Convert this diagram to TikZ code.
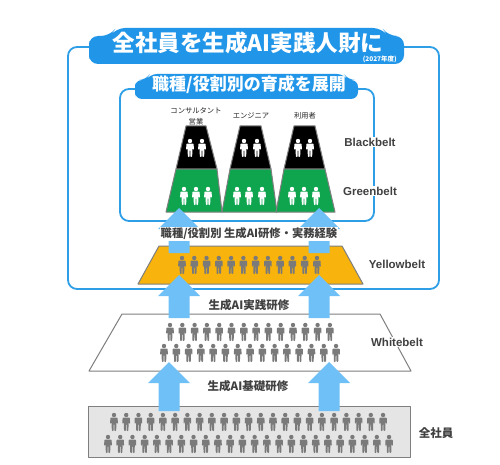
\documentclass[tikz,border=0pt]{standalone}
\usepackage{fontspec}
\setmainfont{Noto Sans CJK JP}
\newfontfamily\beltfont{Liberation Sans}
\usepackage{tikz}
\usetikzlibrary{positioning, calc}

\definecolor{frameblue}{HTML}{2E9FE6}
\definecolor{pillblue}{HTML}{2196E8}
\definecolor{arrowblue}{HTML}{70C0F8}
\definecolor{beltgreen}{HTML}{0FA54F}
\definecolor{beltyellow}{HTML}{F8B30C}
\definecolor{edgegray}{HTML}{7F7F7F}
\definecolor{persongray}{HTML}{7A7A7A}

\tikzset{
    frame/.style={draw=frameblue, line width=1.8pt, rounded corners=9pt},
    pill/.style={fill=pillblue, rounded corners=9pt},
    belt/.style={draw=edgegray, line width=1pt, line join=round},
    beltlabel/.style={font=\beltfont\bfseries\fontsize{11.5}{13}\selectfont, text=black!75, fill=white, inner sep=1pt},
    stagelabel/.style={font=\bfseries\fontsize{11.5}{13}\selectfont, text=black!75, fill=white, inner sep=1pt},
    rolelabel/.style={font=\fontsize{7.3}{9}\selectfont, text=black!85, inner sep=0pt},
    pics/person/.style={code={
        \fill[#1] (0,-7) circle (2.2);
        \fill[#1, rounded corners=0.8pt] (-3.7,-4.4) -- (3.7,-4.4) -- (3.8,1.6) -- (2.8,1.6) -- (2.4,-2)
            -- (2.2,9) -- (0.4,9) -- (0.3,2) -- (-0.3,2) -- (-0.4,9) -- (-2.2,9) -- (-2.4,-2)
            -- (-2.8,1.6) -- (-3.8,1.6) -- cycle;
    }},
    pics/blockarrow/.style={code={
        \fill[arrowblue] (0,0) -- (21,21) -- (10.5,21) -- (10.5,#1) -- (-10.5,#1) -- (-10.5,21) -- (-21,21) -- cycle;
    }}
}

\begin{document}
\begin{tikzpicture}[x=1pt, y=-1pt]
    \useasboundingbox[fill=white] (0,0) rectangle (500,465);

    % Outer and inner frames
    \draw[frame] (68,47) rectangle (439,289);
    \draw[frame] (120,89) rectangle (374,221);

    % Headings
    \fill[pill] (89,50) -- (89,36) -- (110,36) -- (116,28) -- (382,28) -- (388,36) -- (404,36) -- (404,64) -- (89,64) -- cycle;
    \node[font=\bfseries\fontsize{22.5}{24}\selectfont, text=white, inner sep=0pt] (title) at (248,43) {全社員を生成AI実践人財に};
    \node[font=\bfseries\fontsize{6.5}{7}\selectfont, text=white, inner sep=0pt, anchor=east] (year) at (397,59) {(2027年度)};
    \fill[pill, rounded corners=7pt] (135,90) -- (135,80) -- (146,80) -- (150,74) -- (344,74) -- (348,80) -- (358,80) -- (358,99) -- (135,99) -- cycle;
    \node[font=\bfseries\fontsize{17}{19}\selectfont, text=white, inner sep=0pt] (subtitle) at (249,85) {職種/役割別の育成を展開};

    % Black and green belts
    \foreach \xa/\xb/\xc/\xd/\xe/\xf in {186/206/176/217/166/222, 240/261/230/271/222/277, 294/315/284/325/276/335} {
        \draw[belt, fill=beltgreen] (\xc,169) -- (\xd,169) -- (\xf,212) -- (\xe,212) -- cycle;
        \draw[belt, fill=black] (\xa,126) -- (\xb,126) -- (\xd,169) -- (\xc,169) -- cycle;
    }
    \foreach \x in {190,202,244,257,298,310}
        \pic at (\x,148) {person=white};
    \foreach \x in {184,196,208,237,249,262,292,304,316}
        \pic at (\x,196) {person=white};

    % Roles
    \node[rolelabel] (consult) at (196,111) {コンサルタント};
    \node[rolelabel] (sales) at (196,122) {営業};
    \node[rolelabel] (engineer) at (251,116) {エンジニア};
    \node[rolelabel] (user) at (305,116) {利用者};

    % Yellow belt
    \draw[belt, fill=beltyellow] (159,246) -- (342,246) -- (363,284) -- (138,284) -- cycle;
    \foreach \i in {0,...,11}
        \pic at ({182+12.27*\i},265) {person=persongray};

    % White belt
    \draw[belt, fill=white] (122,314) -- (380,314) -- (411,371) -- (89,371) -- cycle;
    \foreach \i in {0,...,13}
        \pic at ({170+12.3*\i},332) {person=persongray};
    \foreach \i in {0,...,14}
        \pic at ({164+12.29*\i},353) {person=persongray};

    % All employees
    \draw[belt, fill=black!10] (88,406) rectangle (410,457);
    \foreach \i in {0,...,22}
        \pic at ({114+12.23*\i},422) {person=persongray};
    \foreach \i in {0,...,23}
        \pic at ({108+12.22*\i},444) {person=persongray};

    % Arrows
    \pic at (169,362) {blockarrow=49};
    \pic at (329,362) {blockarrow=49};
    \pic at (179,275) {blockarrow=43};
    \pic at (319,275) {blockarrow=43};
    \pic at (179,208) {blockarrow=45};
    \pic at (319,208) {blockarrow=45};

    % Labels
    \node[stagelabel, font=\bfseries\fontsize{11.3}{13}\selectfont] (stagetop) at (249,234) {職種/役割別 生成AI研修・実務経験};
    \node[stagelabel] (stagemid) at (249,305) {生成AI実践研修};
    \node[stagelabel] (stagelow) at (248,386) {生成AI基礎研修};
    \node[beltlabel] (black) at (370,142) {Blackbelt};
    \node[beltlabel] (green) at (370,191) {Greenbelt};
    \node[beltlabel] (yellow) at (397,264) {Yellowbelt};
    \node[beltlabel] (white) at (397,342) {Whitebelt};
    \node[stagelabel] (all) at (436,433) {全社員};
\end{tikzpicture}
\end{document}
